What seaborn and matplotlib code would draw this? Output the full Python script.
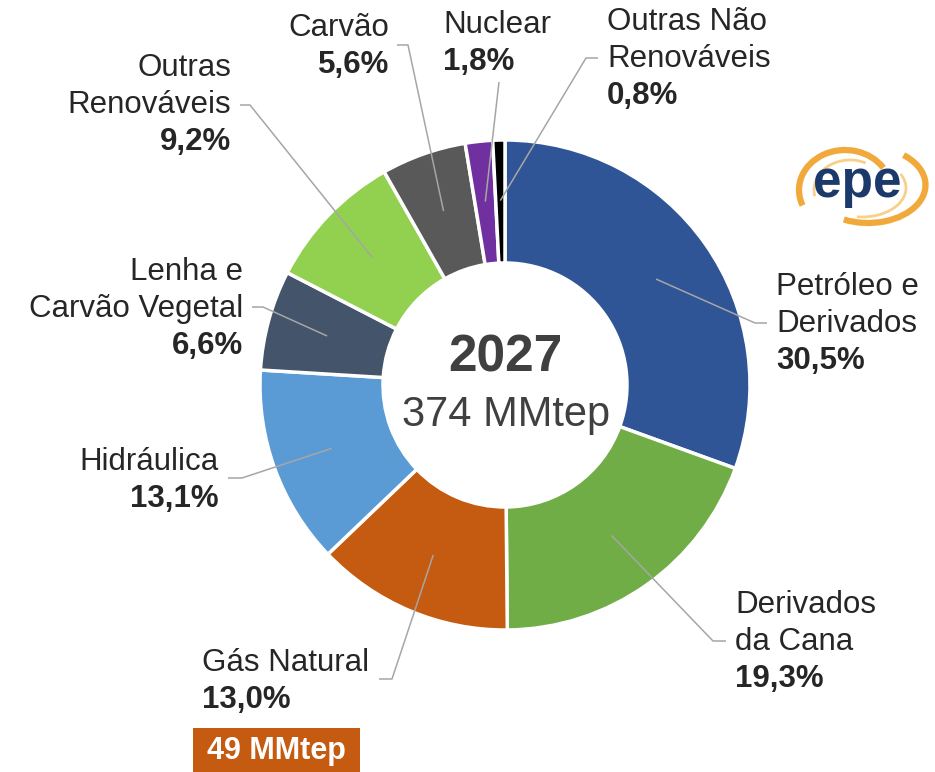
import numpy as np
import matplotlib.pyplot as plt
import seaborn as sns
from matplotlib.patches import Arc, Rectangle

# dados do gráfico (participação % na oferta interna de energia, 2027)
fontes = ["Petróleo e\nDerivados", "Derivados\nda Cana", "Gás Natural", "Hidráulica",
          "Lenha e\nCarvão Vegetal", "Outras\nRenováveis", "Carvão", "Nuclear",
          "Outras Não\nRenováveis"]
participacao = [30.5, 19.3, 13.0, 13.1, 6.6, 9.2, 5.6, 1.8, 0.8]
cores = ["#2F5597", "#70AD47", "#C55A11", "#5B9BD5", "#44546A",
         "#92D050", "#595959", "#7030A0", "#000000"]
ano = "2027"
total = "374 MMtep"
destaque_gas = "49 MMtep"

# posições dos rótulos (x, y da 1a linha, alinhamento) e das linhas de chamada
rotulo_pos = [(776, 287, "left"), (735, 605, "left"), (202, 663, "left"),
              (219, 462, "right"), (243, 272, "right"), (231, 68, "right"),
              (389, 28, "right"), (443, 25, "left"), (607, 22, "left")]
chamada = [[(755, 323), (767, 323)], [(713, 641), (726, 641)],
           [(392, 679), (379, 679)], [(242, 478), (228, 478)],
           [(263, 307), (252, 307)], [(250, 105), (240, 105)],
           [(408, 45), (397, 45)], [(499, 82)], [(586, 58), (598, 58)]]

sns.set_style("white")
plt.rcParams["font.family"] = ["Liberation Sans", "DejaVu Sans"]

W, H = 935, 772
fig = plt.figure(figsize=(W / 100, H / 100), dpi=100)
ax = fig.add_axes([0, 0, 1, 1])

cx, cy, R, largura = 505, 385, 245, 123
ax.pie(participacao, colors=cores, startangle=-90, counterclock=True,
       center=(cx, cy), radius=R,
       wedgeprops=dict(width=largura, edgecolor="white", linewidth=2.5))
ax.set_xlim(0, W)
ax.set_ylim(H, 0)
ax.set_aspect("equal")
ax.axis("off")

cor_txt = "#262626"
fs = 22.5
total_pct = sum(participacao)
acum = np.cumsum([0] + participacao[:-1])
for nome, v, a, pos, pts in zip(fontes, participacao, acum, rotulo_pos, chamada):
    meio = np.deg2rad(90 - 360 * (a + v / 2) / total_pct)
    r = R - largura / 2 + 1
    x0, y0 = cx + r * np.cos(meio), cy - r * np.sin(meio)
    xs = [x0] + [p[0] for p in pts]
    ys = [y0] + [p[1] for p in pts]
    ax.plot(xs, ys, color="#A6A6A6", lw=1.1, solid_capstyle="butt")

    x, y, ha = pos
    linhas = nome.split("\n")
    for i, ln in enumerate(linhas):
        ax.text(x, y + i * 37, ln, ha=ha, va="center", fontsize=fs, color=cor_txt)
    pct = f"{v:.1f}%".replace(".", ",")
    ax.text(x, y + len(linhas) * 37, pct, ha=ha, va="center", fontsize=fs,
            fontweight="bold", color=cor_txt)

# texto central
ax.text(cx, 358, ano, ha="center", va="center", fontsize=37, fontweight="bold", color="#404040")
ax.text(cx + 1, 415, total, ha="center", va="center", fontsize=30, color="#404040")

# destaque gás natural
ax.add_patch(Rectangle((193, 728), 167, 46, color="#C55A11", lw=0))
ax.text(276, 751, destaque_gas, ha="center", va="center", fontsize=22,
        fontweight="bold", color="white")

# logo epe (aproximação)
def arco(xc, yc, w, h, v1, v2, cor, lw):
    ax.add_patch(Arc((xc, yc), w, h, theta1=-v2, theta2=-v1, color=cor, lw=lw))

arco(845, 190, 92, 80, 30, 200, "#F2A93B", 4.5)
arco(850, 190, 72, 60, 60, 190, "#F8D08A", 2.0)
arco(868, 185, 115, 76, -125, 40, "#F2A93B", 4.5)
arco(862, 188, 88, 58, -100, 20, "#F8D08A", 2.0)
ax.text(857, 183, "epe", ha="center", va="center", fontsize=37, fontweight="bold",
        color="#1B3A6B")

fig.savefig("out.png", dpi=100, facecolor="white")
